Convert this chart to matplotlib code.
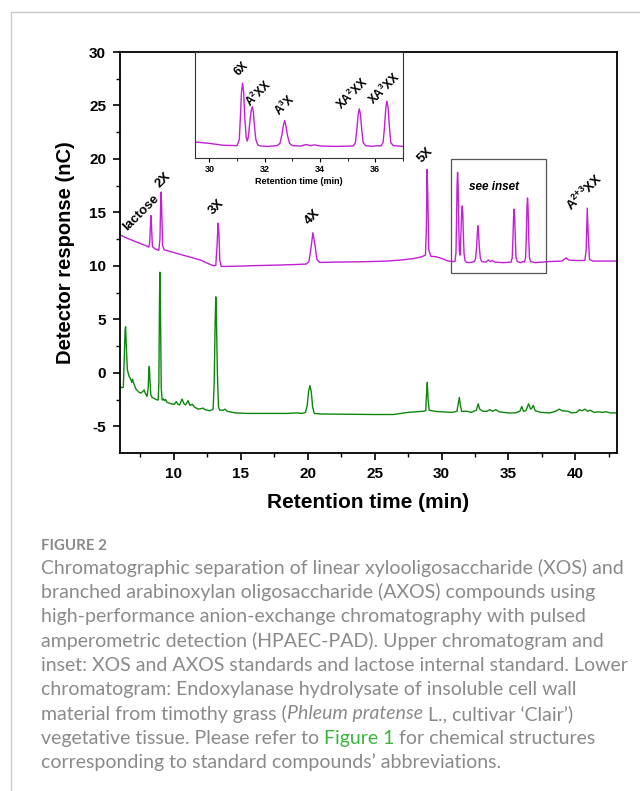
import matplotlib
matplotlib.use('Agg')
import matplotlib.pyplot as plt
from matplotlib.lines import Line2D
from matplotlib.patches import Rectangle

plt.rcParams['font.family'] = ['Liberation Sans', 'DejaVu Sans']
plt.rcParams['mathtext.fontset'] = 'custom'
plt.rcParams['mathtext.rm'] = 'Liberation Sans:bold'
plt.rcParams['mathtext.bf'] = 'Liberation Sans:bold'
plt.rcParams['axes.unicode_minus'] = False

# upper chromatogram: XOS / AXOS standards + lactose (time in min, response in nC)
upper_t = [6.0, 6.5, 7.0, 7.5, 8.0, 8.15, 8.22, 8.28, 8.31, 8.35, 8.42, 8.6, 8.9,
           8.98, 9.04, 9.07, 9.11, 9.18, 9.3, 10.0, 11.0, 12.0, 12.7, 13.0, 13.15,
           13.25, 13.32, 13.38, 13.45, 13.55, 14.0, 15.0, 16.0, 17.0, 18.0, 19.0,
           19.9, 20.1, 20.25, 20.4, 20.55, 20.7, 20.9, 22.0, 24.0, 26.0, 27.0, 28.0,
           28.5, 28.8, 28.87, 28.92, 28.97, 29.05, 29.2, 29.6, 30.0, 30.5, 31.0,
           31.08, 31.12, 31.16, 31.2, 31.24, 31.28, 31.33, 31.37, 31.41, 31.47,
           31.51, 31.55, 31.59, 31.63, 31.68, 31.75, 31.85, 32.1, 32.45, 32.55,
           32.62, 32.67, 32.72, 32.77, 32.82, 32.9, 33.0, 33.3, 33.5, 33.65, 33.8,
           34.0, 34.6, 35.2, 35.28, 35.33, 35.38, 35.42, 35.46, 35.51, 35.56, 35.65,
           35.9, 36.05, 36.2, 36.28, 36.33, 36.38, 36.42, 36.46, 36.51, 36.56,
           36.65, 37.0, 37.5, 38.0, 39.0, 39.3, 39.5, 40.0, 40.7, 40.8, 40.88,
           40.95, 41.05, 41.3, 42.0, 43.1]
upper_nc = [12.9, 12.6, 12.35, 12.1, 11.85, 11.75, 12.2, 14.0, 14.7, 13.8, 11.8,
            11.6, 11.45, 12.5, 16.0, 16.9, 15.5, 11.9, 11.5, 11.25, 10.9, 10.55,
            10.15, 10.0, 10.05, 12.0, 14.0, 13.2, 10.5, 9.95, 9.95, 9.98, 10.02,
            10.05, 10.08, 10.12, 10.17, 10.4, 11.6, 13.1, 12.0, 10.6, 10.32, 10.35,
            10.38, 10.45, 10.55, 10.7, 10.85, 11.0, 13.5, 19.0, 17.0, 11.5, 10.9,
            10.85, 10.7, 10.45, 10.4, 11.2, 14.1, 17.5, 18.75, 17.5, 14.1, 11.5,
            11.0, 11.6, 13.8, 15.0, 15.6, 14.9, 13.0, 11.2, 10.5, 10.35, 10.3,
            10.4, 10.7, 11.8, 13.0, 13.75, 13.0, 11.8, 10.7, 10.4, 10.35, 10.55,
            10.4, 10.5, 10.35, 10.3, 10.35, 10.8, 12.5, 14.6, 15.3, 14.6, 12.5,
            10.8, 10.4, 10.3, 10.4, 10.35, 10.8, 12.8, 15.5, 16.35, 15.5, 12.8,
            10.8, 10.4, 10.3, 10.35, 10.4, 10.45, 10.75, 10.55, 10.5, 10.5, 11.5,
            15.4, 13.0, 10.6, 10.45, 10.45, 10.45]

# lower chromatogram: endoxylanase hydrolysate of timothy grass cell wall
lower_t = [6.0, 6.1, 6.25, 6.32, 6.38, 6.42, 6.47, 6.55, 6.67, 6.8, 6.88, 6.93, 7.0,
           7.18, 7.4, 7.55, 7.7, 7.8, 7.9, 8.02, 8.1, 8.16, 8.19, 8.23, 8.3, 8.4,
           8.7, 8.85, 8.9, 8.95, 8.98, 9.02, 9.08, 9.15, 9.25, 9.32, 9.4, 9.5,
           9.82, 10.05, 10.2, 10.32, 10.45, 10.63, 10.78, 10.9, 11.08, 11.22, 11.4,
           11.55, 11.84, 12.05, 12.2, 12.35, 12.7, 12.95, 13.03, 13.1, 13.15, 13.2,
           13.27, 13.35, 13.45, 13.7, 13.85, 14.0, 14.6, 15.5, 17.0, 18.5, 19.2,
           19.6, 19.85, 19.98, 20.08, 20.18, 20.28, 20.38, 20.5, 21.0, 23.0, 25.0,
           26.4, 27.5, 28.6, 28.82, 28.88, 28.94, 29.0, 29.08, 29.5, 30.0, 30.8,
           31.15, 31.25, 31.33, 31.4, 31.5, 31.9, 32.2, 32.6, 32.74, 32.85, 33.1,
           33.4, 33.6, 33.8, 34.05, 34.3, 35.0, 35.5, 35.85, 35.99, 36.12, 36.3,
           36.5, 36.65, 36.75, 36.85, 37.0, 37.4, 38.1, 38.5, 38.8, 39.0, 39.45,
           39.7, 40.1, 40.3, 40.5, 40.7, 40.9, 41.1, 41.4, 41.7, 42.0, 42.3, 42.6,
           43.1]
lower_nc = [-1.2, -1.4, -1.35, 1.5, 4.0, 4.3, 2.5, 0.3, -0.3, -0.6, -0.9, -0.6,
            -0.9, -1.5, -1.8, -1.9, -1.75, -1.6, -1.95, -2.2, -1.5, 0.3, 0.6, -0.5,
            -2.1, -2.3, -2.5, -2.55, -1.0, 7.0, 9.4, 6.0, -1.5, -2.55, -2.45, -2.6,
            -2.5, -2.75, -2.9, -2.95, -2.7, -2.95, -3.0, -2.45, -2.9, -3.0, -2.6,
            -3.05, -2.95, -3.2, -3.4, -3.35, -3.3, -3.45, -3.55, -3.4, -1.0, 4.5,
            7.1, 5.0, 0.0, -3.2, -3.5, -3.5, -3.4, -3.6, -3.75, -3.8, -3.8, -3.8,
            -3.75, -3.8, -3.7, -3.0, -1.7, -1.2, -1.8, -3.2, -3.8, -3.85, -3.88,
            -3.9, -3.9, -3.7, -3.6, -3.55, -2.0, -0.9, -2.5, -3.5, -3.6, -3.65,
            -3.7, -3.6, -2.9, -2.3, -3.0, -3.6, -3.6, -3.7, -3.5, -2.9, -3.4, -3.6,
            -3.6, -3.45, -3.6, -3.45, -3.65, -3.75, -3.75, -3.6, -3.15, -3.6,
            -3.55, -2.9, -3.4, -3.3, -3.05, -3.55, -3.7, -3.75, -3.6, -3.4, -3.55,
            -3.6, -3.75, -3.7, -3.45, -3.55, -3.4, -3.6, -3.5, -3.7, -3.65, -3.7,
            -3.65, -3.75, -3.75]

main_labels = ['lactose', '2X', '3X', '4X', '5X', 'A$^{2{+}3}$XX']
main_label_t = [7.6, 9.25, 13.2, 20.35, 28.8, 40.7]
main_label_nc = [15.0, 18.0, 15.5, 14.6, 20.4, 16.9]

inset_labels = ['6X', 'A$^{2}$XX', 'A$^{3}$X', 'XA$^{2}$XX', 'XA$^{3}$XX']
inset_label_t = [31.16, 31.76, 32.73, 35.17, 36.33]
inset_label_nc = [20.6, 17.4, 15.8, 17.4, 18.0]

caption_head = 'FIGURE 2'
caption_lines = [
    [('Chromatographic separation of linear xylooligosaccharide (XOS) and', None)],
    [('branched arabinoxylan oligosaccharide (AXOS) compounds using', None)],
    [('high-performance anion-exchange chromatography with pulsed', None)],
    [('amperometric detection (HPAEC-PAD). Upper chromatogram and', None)],
    [('inset: XOS and AXOS standards and lactose internal standard. Lower', None)],
    [('chromatogram: Endoxylanase hydrolysate of insoluble cell wall', None)],
    [('material from timothy grass (', None), ('Phleum pratense', 'italic'),
     (' L., cultivar \u2018Clair\u2019)', None)],
    [('vegetative tissue. Please refer to ', None), ('Figure 1', 'link'),
     (' for chemical structures', None)],
    [('corresponding to standard compounds\u2019 abbreviations.', None)],
]

MAGENTA = '#c21fd6'
GREEN = '#0b870b'
W, H = 640, 791

fig = plt.figure(figsize=(W / 100, H / 100), dpi=100)

# frame lines of the page
fig.add_artist(Line2D([11 / W, 1], [1 - 12 / H] * 2, transform=fig.transFigure,
                      color='#c8c8c8', lw=1))
fig.add_artist(Line2D([11 / W] * 2, [0, 1 - 12 / H], transform=fig.transFigure,
                      color='#c8c8c8', lw=1))

ax = fig.add_axes([120 / W, 1 - 453 / H, 497 / W, 401 / H])
ax.plot(upper_t, upper_nc, color=MAGENTA, lw=1.0)
ax.plot(lower_t, lower_nc, color=GREEN, lw=1.0)
ax.set_xlim(6, 43.1)
ax.set_ylim(-7.5, 30)
ax.set_xticks(range(10, 45, 5))
ax.set_xticks([7.5 + 5 * i for i in range(8)], minor=True)
ax.set_yticks(range(-5, 35, 5))
ax.set_yticks([-2.5 + 5 * i for i in range(7)], minor=True)
for s in ax.spines.values():
    s.set_linewidth(1.3)
ax.tick_params(direction='out', length=5, width=1.2, labelsize=11, pad=5)
ax.tick_params(which='minor', direction='out', length=3, width=1.0)
for lab in ax.get_xticklabels() + ax.get_yticklabels():
    lab.set_fontweight('bold')
ax.set_xlabel('Retention time (min)', fontsize=15, fontweight='bold', labelpad=9)
ax.set_ylabel('Detector response (nC)', fontsize=14.5, fontweight='bold', labelpad=10)

for lab, t, y in zip(main_labels, main_label_t, main_label_nc):
    ax.text(t, y, lab, rotation=45, ha='center', va='center', fontsize=9.5,
            fontweight='bold')

ax.add_patch(Rectangle((30.7, 9.33), 7.1, 10.67, fill=False, ec='#555555', lw=0.9))
ax.text(33.9, 17.4, 'see inset', ha='center', va='center', fontsize=8.5,
        fontweight='bold', style='italic')

# inset zoom on 29.5 - 37 min
axin = fig.add_axes([195 / W, 1 - 158 / H, 208 / W, 106 / H])
axin.plot(upper_t, upper_nc, color=MAGENTA, lw=1.0)
axin.set_xlim(29.48, 37.0)
axin.set_ylim(8.75, 22.9)
axin.set_yticks([])
axin.set_xticks([30, 32, 34, 36])
axin.set_xticks([31, 33, 35, 37], minor=True)
for s in axin.spines.values():
    s.set_linewidth(0.8)
    s.set_color('#333333')
axin.tick_params(direction='out', length=3, width=0.8, labelsize=6.5, pad=2)
axin.tick_params(which='minor', direction='out', length=2, width=0.6)
for lab in axin.get_xticklabels():
    lab.set_fontweight('bold')
axin.set_xlabel('Retention time (min)', fontsize=6.5, fontweight='bold', labelpad=2)
for lab, t, y in zip(inset_labels, inset_label_t, inset_label_nc):
    axin.text(t, y, lab, rotation=45, ha='center', va='center', fontsize=8.5,
              fontweight='bold')

# caption
renderer = fig.canvas.get_renderer()
CAP = dict(family=['Lato', 'DejaVu Sans'], color='#8a8a8a', va='center')


def text_w(s, **kw):
    t = fig.text(0, 0, s + '.', **kw)
    w = t.get_window_extent(renderer).width
    t.remove()
    t = fig.text(0, 0, '.', **kw)
    w -= t.get_window_extent(renderer).width
    t.remove()
    return w


size = 10 * 582 / text_w(caption_lines[0][0][0], fontsize=10, **CAP)

fig.text(41 / W, 1 - 546 / H, caption_head, fontsize=size * 0.77,
         fontweight='bold', **CAP)

for i, parts in enumerate(caption_lines):
    y = 568 + i * 24.3
    x = 41
    for s, kind in parts:
        kw = dict(CAP, fontsize=size)
        if kind == 'italic':
            kw['style'] = 'italic'
        if kind == 'link':
            kw['color'] = '#3cb43c'
        fig.text(x / W, 1 - y / H, s, **kw)
        x += text_w(s, **kw)

fig.savefig('out.png', dpi=100)
